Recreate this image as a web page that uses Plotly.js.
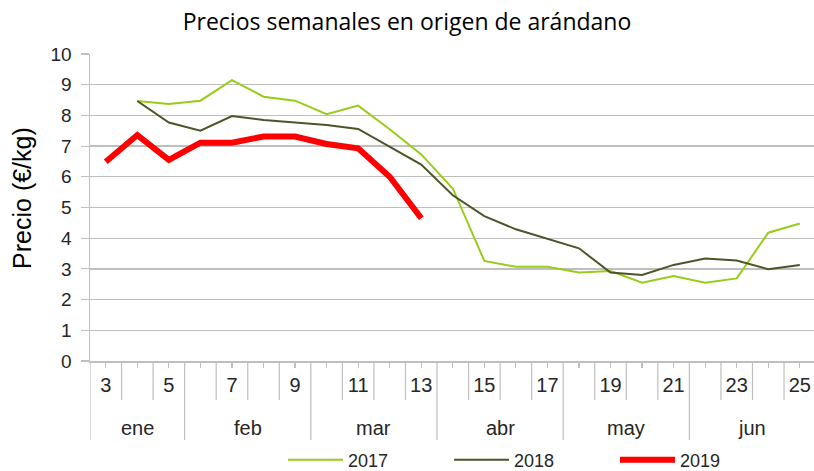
<!DOCTYPE html>
<html><head><meta charset="utf-8">
<script src="https://cdn.plot.ly/plotly-3.0.1.min.js"></script>
<style>html,body{margin:0;padding:0;background:#fff;}#chart{width:814px;height:471px;}</style>
</head><body><div id="chart"></div>
<script>
const weeks = [3,4,5,6,7,8,9,10,11,12,13,14,15,16,17,18,19,20,21,22,23,24,25];
const tickWeeks = [3,5,7,9,11,13,15,17,19,21,23,25];
const months = ["ene","feb","mar","abr","may","jun"];
const monthFirstWeek = [3,6,10,14,18,22];
const monthLastWeek = [5,9,13,17,21,25];
const s2017 = [null,8.47,8.37,8.48,9.15,8.61,8.48,8.04,8.32,7.55,6.73,5.62,3.26,3.07,3.07,2.88,2.93,2.55,2.77,2.55,2.69,4.18,4.48];
const s2018 = [null,8.47,7.77,7.5,7.98,7.85,7.77,7.69,7.56,6.98,6.4,5.4,4.72,4.29,3.97,3.67,2.88,2.8,3.13,3.34,3.27,2.99,3.13];
const s2019 = [6.49,7.36,6.55,7.11,7.11,7.31,7.31,7.07,6.93,6.0,4.65];

const grey = '#bfbfbf';
const traces = [
  {x: weeks, y: s2017, name: '2017', mode: 'lines', line: {color: '#99cc1a', width: 2}},
  {x: weeks, y: s2018, name: '2018', mode: 'lines', line: {color: '#4b5528', width: 2}},
  {x: weeks.slice(0, s2019.length), y: s2019, name: '2019', mode: 'lines', line: {color: '#ff0000', width: 6}}
];

const shapes = [];
for (let i = 0; i <= weeks.length; i++) {
  const xb = weeks[0] - 0.5 + i;
  const isMonth = monthFirstWeek.includes(xb + 0.5) || i === 0;
  shapes.push({type: 'line', xref: 'x', yref: 'paper', x0: xb, x1: xb, y0: 0, y1: isMonth ? -0.257 : -0.127,
    line: {color: grey, width: 1.2}});
}
const annotations = months.map((m, i) => ({
  text: m, xref: 'x', yref: 'paper', x: (monthFirstWeek[i] + monthLastWeek[i]) / 2, y: -0.218,
  showarrow: false, font: {family: 'Liberation Sans, Arial, sans-serif', size: 20, color: '#262626'},
  xanchor: 'center', yanchor: 'middle'
}));
annotations.push({
  text: 'Precio (€/kg)', xref: 'paper', yref: 'paper', x: -0.094, y: 0.531, textangle: -90,
  showarrow: false, xanchor: 'center', yanchor: 'middle',
  font: {family: 'Liberation Sans, Arial, sans-serif', size: 25, color: '#000'}
});

const layout = {
  width: 814, height: 471,
  margin: {l: 90, r: 0, t: 54, b: 110, autoexpand: false},
  paper_bgcolor: '#fff', plot_bgcolor: '#fff',
  title: {text: 'Precios semanales en origen de arándano', x: 0.5, xref: 'container', xanchor: 'center',
    y: 0.953, yanchor: 'middle',
    font: {family: 'Open Sans, sans-serif', size: 23, color: '#000'}},
  xaxis: {
    range: [2.5, 25.45], tickmode: 'array', tickvals: weeks,
    ticktext: weeks.map(w => tickWeeks.includes(w) ? String(w) : ''),
    ticks: 'outside', ticklen: 5, tickcolor: grey, tickwidth: 1.2,
    showgrid: false, zeroline: false, showline: true, linecolor: grey, linewidth: 1.5,
    tickfont: {family: 'Liberation Sans, Arial, sans-serif', size: 20, color: '#262626'},
    fixedrange: true
  },
  yaxis: {
    range: [0, 10], tickvals: [0,1,2,3,4,5,6,7,8,9,10],
    ticks: 'outside', ticklen: 8, tickcolor: grey, tickwidth: 1.2, ticklabelstandoff: 5,
    showgrid: true, gridcolor: grey, gridwidth: 1.3,
    zeroline: false, showline: true, linecolor: grey, linewidth: 1.5,
    tickfont: {family: 'Liberation Sans, Arial, sans-serif', size: 19, color: '#262626'},
    fixedrange: true
  },
  showlegend: true,
  legend: {orientation: 'h', xref: 'container', yref: 'container', x: 283/814, xanchor: 'left',
    y: 11/471, yanchor: 'middle',
    entrywidth: 96, entrywidthmode: 'pixels', itemwidth: 55,
    font: {family: 'Liberation Sans, Arial, sans-serif', size: 18, color: '#262626'}},
  shapes: shapes,
  annotations: annotations
};
Plotly.newPlot('chart', traces, layout, {displayModeBar: false, staticPlot: true});
</script></body></html>
